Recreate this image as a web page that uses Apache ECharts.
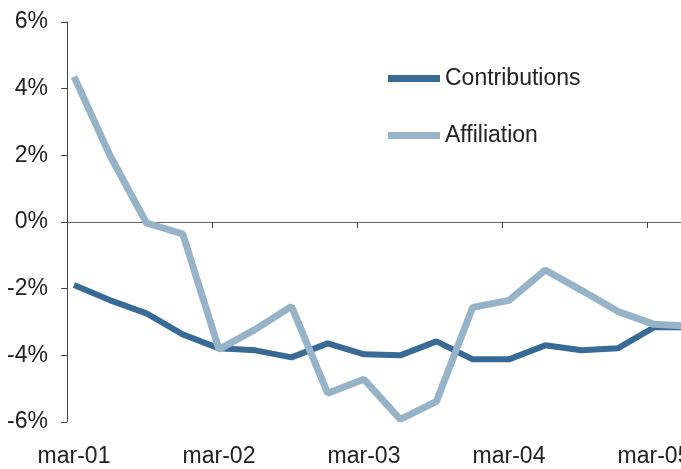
<!DOCTYPE html>
<html>
<head>
<meta charset="utf-8">
<script src="https://cdn.jsdelivr.net/npm/echarts@6/dist/echarts.min.js"></script>
<style>html,body{margin:0;padding:0;background:#fff}#c{width:681px;height:469px}</style>
</head>
<body>
<div id="c"></div>
<script>
// Quarterly categories (index 0 = mar-01)
const categories = ['mar-01','jun-01','sep-01','dec-01','mar-02','jun-02','sep-02','dec-02','mar-03','jun-03','sep-03','dec-03','mar-04','jun-04','sep-04','dec-04','mar-05','jun-05'];
const contributions = [-1.89,-2.35,-2.74,-3.37,-3.79,-3.85,-4.06,-3.64,-3.97,-4.00,-3.58,-4.12,-4.12,-3.70,-3.85,-3.79,-3.16,-3.16];
const affiliation   = [4.36,1.98,-0.03,-0.36,-3.82,-3.22,-2.53,-5.14,-4.72,-5.92,-5.38,-2.56,-2.35,-1.44,-2.05,-2.68,-3.07,-3.13];
const labelIdx = [0,4,8,12,16];
const yTicks = [-6,-4,-2,0,2,4,6];

const XMIN = -0.193, XMAX = 16.745;
const tickPos = labelIdx.map(i => i + XMIN);
const FONT = "'Liberation Sans', Arial, Helvetica, sans-serif";

const chart = echarts.init(document.getElementById('c'), null, {renderer:'canvas'});
chart.setOption({
  animation:false,
  backgroundColor:'#fff',
  textStyle:{fontFamily:FONT},
  grid:{left:67, right:0, top:22, bottom:47, containLabel:false, outerBoundsMode:'none'},
  legend:{
    orient:'vertical', left:383, top:62, itemWidth:52, itemHeight:7, itemGap:34,
    icon:'rect',
    textStyle:{fontSize:23, color:'#222', fontFamily:FONT},
    data:['Contributions','Affiliation']
  },
  xAxis:[
    {type:'value', min:XMIN, max:XMAX,
     axisLine:{show:true, onZero:true, lineStyle:{color:'#666', width:1}},
     axisTick:{show:true, customValues:tickPos, length:6, lineStyle:{color:'#444'}},
     axisLabel:{show:false}, splitLine:{show:false}},
    {type:'value', min:XMIN, max:XMAX, position:'bottom',
     axisLine:{show:false, onZero:false}, axisTick:{show:false}, splitLine:{show:false},
     axisLabel:{show:true, customValues:labelIdx, margin:23, fontSize:23, color:'#222', fontFamily:FONT,
       formatter:v => categories[Math.round(v)]}}
  ],
  yAxis:{type:'value', min:-6, max:6, interval:2,
    axisLine:{show:true, onZero:false, lineStyle:{color:'#444', width:1}},
    axisTick:{show:true, length:6, lineStyle:{color:'#444'}},
    splitLine:{show:false},
    axisLabel:{fontSize:23, color:'#222', margin:19, fontFamily:FONT, formatter:v => v + '%'}},
  series:[
    {name:'Contributions', type:'line', xAxisIndex:0, showSymbol:false, symbol:'none',
     lineStyle:{width:6, color:'#386a96'}, itemStyle:{color:'#386a96'},
     data:contributions.map((v,i)=>[i,v])},
    {name:'Affiliation', type:'line', xAxisIndex:0, showSymbol:false, symbol:'none',
     lineStyle:{width:7, color:'#97b3c8'}, itemStyle:{color:'#97b3c8'},
     data:affiliation.map((v,i)=>[i,v])}
  ]
});
</script>
</body>
</html>
